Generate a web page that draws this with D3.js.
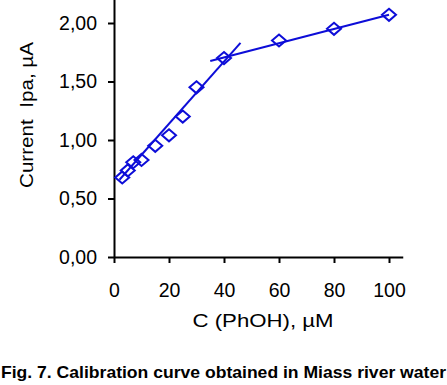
<!DOCTYPE html>
<html>
<head>
<meta charset="utf-8">
<script src="https://cdn.jsdelivr.net/npm/d3@7"></script>
<style>
  body { margin: 0; background: #fff; }
  svg { display: block; font-family: "Liberation Sans", Arial, sans-serif; }
</style>
</head>
<body>
<svg id="chart" width="447" height="385"></svg>
<script>
// data
const conc = [3, 5, 7, 10, 15, 20, 25, 30, 40, 60, 80, 100]          // C (PhOH), uM
const current = [0.68, 0.74, 0.81, 0.83, 0.95, 1.04, 1.20, 1.45, 1.70, 1.85, 1.95, 2.07]
// the two linear pieces of the calibration curve (endpoints)
const fit1X = [2, 46], fit1Y = [0.66, 1.83]
const fit2X = [35, 100], fit2Y = [1.675, 2.07]
const xTicks = [0, 20, 40, 60, 80, 100]
const yTicks = [0, 0.5, 1.0, 1.5, 2.0]

const blue = "#0d0dd8"
const svg = d3.select('#chart')

const x = d3.scaleLinear().domain([0, 105]).range([114, 402.75])
const y = d3.scaleLinear().domain([0, 2.2]).range([257, 257 - 117 * 2.2])

// axes
const gx = svg.append("g")
  .attr("transform", "translate(0,257)")
  .call(d3.axisBottom(x).tickValues(xTicks).tickSize(6).tickSizeOuter(0).tickPadding(20))
const gy = svg.append("g")
  .attr("transform", "translate(114,0)")
  .call(d3.axisLeft(y).tickValues(yTicks).tickSize(6).tickSizeOuter(0).tickPadding(11)
    .tickFormat(d => d.toFixed(2).replace('.', ',')))

svg.selectAll(".domain, .tick line").attr("stroke", "#000").attr("stroke-width", 2)
svg.selectAll(".tick text")
  .attr("fill", "#000")
  .style("font-family", '"Liberation Sans", Arial, sans-serif')
  .style("font-size", "19.5px")

// fitted lines
const line = d3.line().x(d => x(d[0])).y(d => y(d[1]))
svg.append("path").datum(d3.zip(fit1X, fit1Y))
  .attr("d", line).attr("fill", "none").attr("stroke", blue).attr("stroke-width", 2)
svg.append("path").datum(d3.zip(fit2X, fit2Y))
  .attr("d", line).attr("fill", "none").attr("stroke", blue).attr("stroke-width", 2)

// hollow diamonds
svg.append("g").selectAll("path")
  .data(d3.zip(conc, current))
  .enter()
  .append("path")
  .attr("d", "M0,-6L7,0L0,6L-7,0Z")
  .attr("transform", d => "translate(" + x(d[0]) + "," + y(d[1]) + ")")
  .attr("fill", "none")
  .attr("stroke", blue)
  .attr("stroke-width", 2)

// axis titles
svg.append("text")
  .attr("x", 192.5).attr("y", 327)
  .attr("textLength", 141).attr("lengthAdjust", "spacingAndGlyphs")
  .style("font-size", "19px")
  .text("C (PhOH), µM")

svg.append("text")
  .attr("transform", "translate(33,188) rotate(-90)")
  .attr("textLength", 146).attr("lengthAdjust", "spacingAndGlyphs")
  .style("font-size", "19px")
  .style("white-space", "pre")
  .text("Current  Ipa, µA")

// caption
svg.append("text")
  .attr("x", 1).attr("y", 378)
  .attr("textLength", 445).attr("lengthAdjust", "spacingAndGlyphs")
  .style("font-size", "16.5px")
  .style("font-weight", "bold")
  .text("Fig. 7. Calibration curve obtained in Miass river water")
</script>
</body>
</html>
